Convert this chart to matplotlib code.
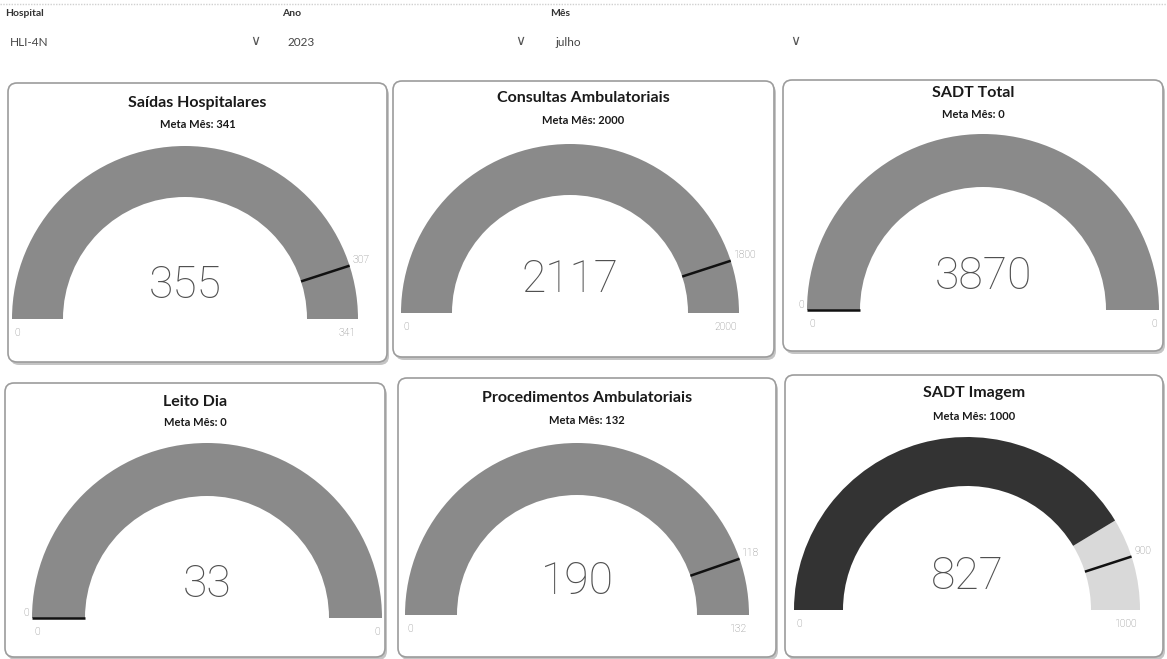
import numpy as np
import matplotlib
matplotlib.use("Agg")
import matplotlib.pyplot as plt
from matplotlib.patches import Wedge, FancyBboxPatch

W, H = 1167, 659

# filters at the top
filter_names = ["Hospital", "Ano", "Mês"]
filter_values = ["HLI-4N", "2023", "julho"]

# gauge cards
titles = ["Saídas Hospitalares", "Consultas Ambulatoriais", "SADT Total",
          "Leito Dia", "Procedimentos Ambulatoriais", "SADT Imagem"]
metas = [341, 2000, 0, 0, 132, 1000]
values = [355, 2117, 3870, 33, 190, 827]
maxes = [341, 2000, 0, 0, 132, 1000]
targets = [307, 1800, 0, 0, 118, 900]

# layout in pixels (x from left, y from top)
# box: left, top, right, bottom ; gauge: cx, baseline, r_out, r_in ; title y, meta y
layout = [
    dict(box=(8, 83, 387, 362), g=(185, 319, 173, 122), ty=103, my=125),
    dict(box=(393, 81, 774, 357), g=(570, 313, 169, 118), ty=98, my=120),
    dict(box=(783, 80, 1163, 351), g=(983, 310, 176, 123), ty=93, my=115),
    dict(box=(5, 383, 385, 657), g=(207, 618, 175, 122), ty=402, my=423),
    dict(box=(398, 378, 776, 657), g=(577, 615, 172, 120), ty=398, my=421),
    dict(box=(785, 375, 1163, 657), g=(967, 610, 173, 124), ty=393, my=417),
]
fill_colors = ["#8a8a8a", "#8a8a8a", "#8a8a8a", "#8a8a8a", "#8a8a8a", "#333333"]
rest_color = "#d9d9d9"

fig = plt.figure(figsize=(W / 100, H / 100), dpi=100)
fig.patch.set_facecolor("white")
ax = fig.add_axes([0, 0, 1, 1])
ax.set_xlim(0, W)
ax.set_ylim(0, H)
ax.axis("off")


def Y(y):
    return H - y


# header / slicers
ax.plot([0, W], [Y(4), Y(4)], color="#d0d0d0", lw=1, ls=(0, (1, 1)))
fx = [5, 282, 550]
chev = [255, 520, 795]
for i in range(3):
    ax.text(fx[i], Y(14), filter_names[i], fontsize=7.5, fontweight="bold",
            family="Lato", color="#333333", va="center", ha="left")
    ax.text(fx[i] + 5, Y(43), filter_values[i], fontsize=8.5, family="Lato",
            color="#444444", va="center", ha="left")
    ax.text(chev[i], Y(41), "\u2228", fontsize=10, family="DejaVu Sans",
            color="#555555", va="center", ha="center")

for i in range(len(titles)):
    L = layout[i]
    bl, bt, br, bb = L["box"]
    cx, by, ro, ri = L["g"]

    # card with soft shadow
    sh = FancyBboxPatch((bl + 2, Y(bb) - 3), br - bl, bb - bt,
                        boxstyle="round,pad=0,rounding_size=9",
                        facecolor="#c4c4c4", edgecolor="none", zorder=1)
    ax.add_patch(sh)
    card = FancyBboxPatch((bl, Y(bb)), br - bl, bb - bt,
                          boxstyle="round,pad=0,rounding_size=9",
                          facecolor="white", edgecolor="#9c9c9c", lw=1.2, zorder=2)
    ax.add_patch(card)

    xm = (bl + br) / 2
    ax.text(xm, Y(L["ty"]), titles[i], fontsize=11.5, fontweight="bold",
            family="Lato", color="#1a1a1a", ha="center", va="center", zorder=5)
    ax.text(xm, Y(L["my"]), "Meta Mês: %d" % metas[i], fontsize=8,
            fontweight="bold", family="Lato", color="#1a1a1a",
            ha="center", va="center", zorder=5)

    # gauge arc
    mx = maxes[i]
    frac = min(values[i] / mx, 1.0) if mx > 0 else 1.0
    a_end = 180 - 180 * frac
    if a_end > 0:
        ax.add_patch(Wedge((cx, Y(by)), ro, 0, a_end, width=ro - ri,
                           facecolor=rest_color, edgecolor="none", zorder=3))
    ax.add_patch(Wedge((cx, Y(by)), ro, a_end, 180, width=ro - ri,
                       facecolor=fill_colors[i], edgecolor="none", zorder=3))

    # target line
    t = targets[i] / mx if mx > 0 else 0.0
    ang = np.radians(180 - 180 * t)
    ax.plot([cx + ri * np.cos(ang), cx + ro * np.cos(ang)],
            [Y(by) + ri * np.sin(ang), Y(by) + ro * np.sin(ang)],
            color="#111111", lw=1.8, zorder=4, solid_capstyle="butt")
    tx = cx + (ro + 3) * np.cos(ang)
    ty = Y(by) + (ro + 3) * np.sin(ang)
    ax.text(tx, ty, "%d" % targets[i], fontsize=7.5, family="Roboto",
            fontweight="light", color="#808080",
            ha="left" if np.cos(ang) > 0.01 else "right", va="bottom", zorder=5)

    # min / max labels
    ax.text(cx - ro + 2, Y(by + 14), "0", fontsize=7.5, family="Roboto",
            fontweight="light", color="#808080", ha="left", va="center", zorder=5)
    ax.text(cx + ro - 2, Y(by + 14), "%d" % mx, fontsize=7.5, family="Roboto",
            fontweight="light", color="#808080", ha="right", va="center", zorder=5)

    # value
    ax.text(cx, Y(by - 33), "%d" % values[i], fontsize=32, family="Roboto",
            fontweight="light", color="#505050", ha="center", va="center", zorder=5)

fig.savefig("out.png", dpi=100, facecolor=fig.get_facecolor())
